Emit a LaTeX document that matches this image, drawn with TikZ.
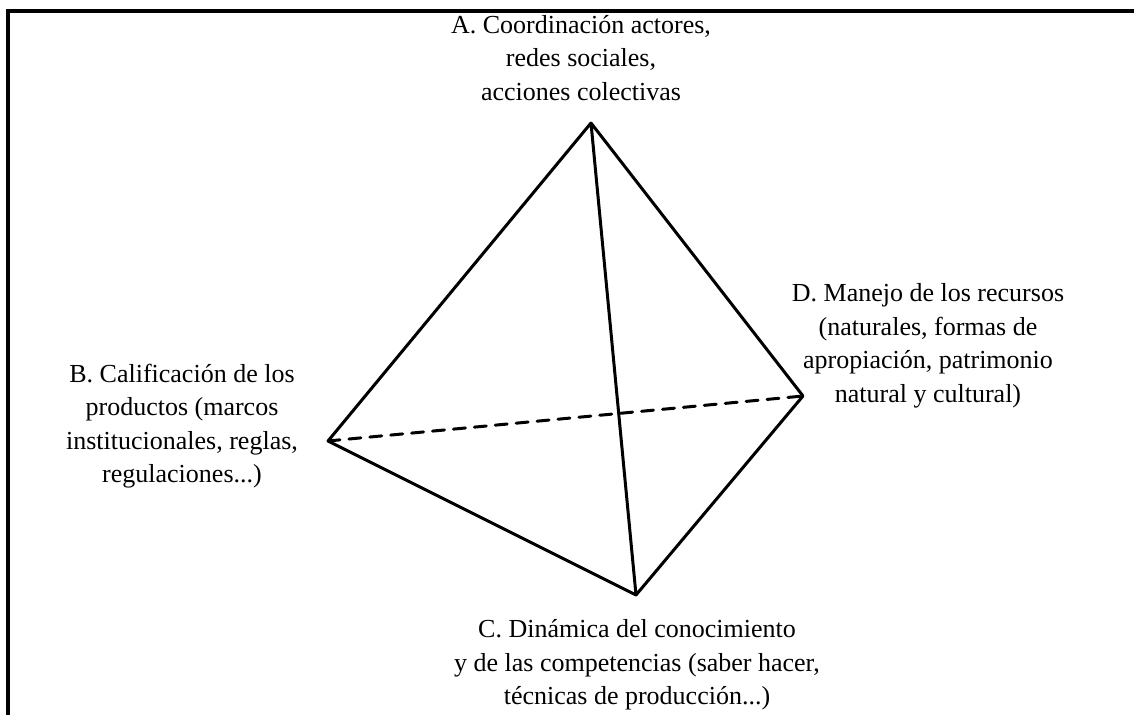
\documentclass[tikz,border=0pt]{standalone}
\usepackage{fontspec}
\setmainfont{Liberation Serif}
\usetikzlibrary{positioning}

\begin{document}
\begin{tikzpicture}[x=0.5pt,y=-0.5pt,
  edge/.style={line width=1.5pt,line join=round,line cap=round},
  hidden/.style={edge,dash pattern=on 6pt off 4.5pt},
  frame/.style={line width=1.8pt},
  lbl/.style={align=center,inner sep=0pt,font=\fontsize{13pt}{16.75pt}\selectfont}]
\useasboundingbox (0,0) rectangle (1134,715);
% frame
\coordinate (f1) at (8,715);
\coordinate (f2) at (8,11);
\coordinate (f3) at (1134,11);
\draw[frame] (f1)--(f2)--(f3);
% vertices
\coordinate (A) at (591,123);
\coordinate (B) at (328,441);
\coordinate (C) at (636,595);
\coordinate (D) at (803,396);
% edges
\draw[edge] (A)--(B) (A)--(C) (A)--(D) (B)--(C) (C)--(D);
\draw[hidden] (B)--(D);
% labels
\node[lbl] (lA) at (581,58) {A. Coordinación actores,\\redes sociales,\\acciones colectivas};
\node[lbl] (lB) at (182,426) {B. Calificación de los\\productos (marcos\\institucionales, reglas,\\regulaciones...)};
\node[lbl] (lC) at (637,665) {C. Dinámica del conocimiento\\y de las competencias (saber hacer,\\técnicas de producción...)};
\node[lbl] (lD) at (928,346) {D. Manejo de los recursos\\(naturales, formas de\\apropiación, patrimonio\\natural y cultural)};
\end{tikzpicture}
\end{document}
